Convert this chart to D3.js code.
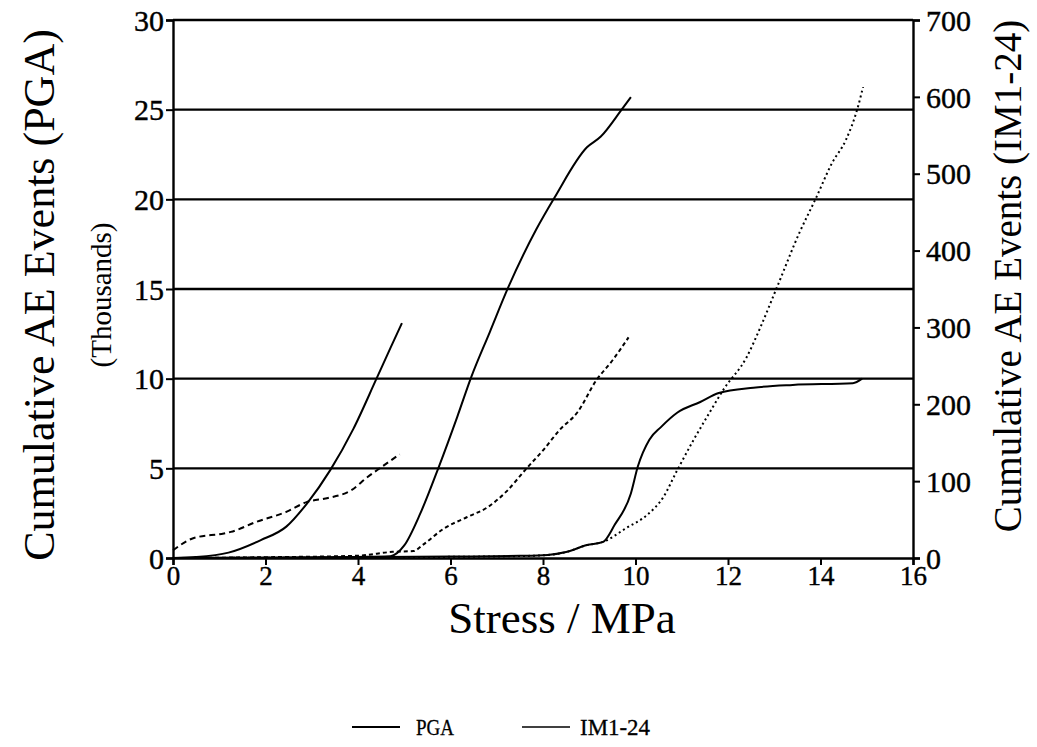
<!DOCTYPE html>
<html>
<head>
<meta charset="utf-8">
<script src="https://cdn.jsdelivr.net/npm/d3@7"></script>
<style>
  body { margin: 0; background: #fff; }
  #chart { width: 1037px; height: 747px; }
  text { font-family: "Liberation Serif", "DejaVu Serif", serif; fill: #000; }
</style>
</head>
<body>
<div id="chart"></div>
<script>
// stress (MPa) and cumulative events
// PGA in thousands (left axis), IM1-24 in events (right axis)
var pga1X = [0, 0.5, 1.2, 1.9, 2.45, 2.9, 3.4, 3.9, 4.4, 4.7, 4.95];
var pga1Y = [0, 0.05, 0.3, 1.0, 1.75, 3.05, 4.9, 7.2, 10.0, 11.7, 13.1];

var im1X = [0, 0.45, 1.1, 1.25, 1.8, 2.45, 2.9, 3.35, 3.85, 4.2, 4.5, 4.9];
var im1Y = [10, 26, 32, 34, 47, 60, 73, 78, 88, 105, 118, 135];

var pga2X = [0, 2, 4, 4.7, 5.0, 5.35, 5.75, 6.15, 6.45, 6.85, 7.25, 7.85, 8.25, 8.95, 9.25, 9.7, 9.9];
var pga2Y = [0, 0.02, 0.06, 0.1, 0.7, 2.5, 5.1, 7.9, 10.1, 12.6, 15.1, 18.3, 20.1, 22.9, 23.5, 25.0, 25.7];

var im2X = [0, 2, 4, 4.75, 5.2, 5.4, 5.85, 6.35, 6.8, 7.2, 7.65, 8.0, 8.35, 8.75, 9.15, 9.5, 9.85];
var im2Y = [0, 1, 3, 8, 9, 17, 38, 53, 66, 86, 117, 140, 166, 190, 231, 257, 287];

var pga3X = [0, 3, 6, 7.5, 8.1, 8.5, 8.95, 9.3, 9.55, 9.9, 10.05, 10.3, 10.55, 10.9, 11.4, 11.8, 12.55, 13.4, 14.7, 14.9];
var pga3Y = [0, 0.03, 0.08, 0.12, 0.17, 0.33, 0.72, 0.9, 1.85, 3.6, 5.1, 6.6, 7.3, 8.1, 8.7, 9.2, 9.5, 9.65, 9.75, 10.0];

var im3X = [0, 3, 6, 7.5, 8.1, 8.5, 8.95, 9.3, 9.8, 10.25, 10.6, 10.9, 11.25, 11.6, 11.9, 12.4, 12.7, 13.05, 13.55, 13.9, 14.25, 14.55, 14.8, 14.92];
var im3Y = [0, 0.5, 1.5, 2.5, 4, 7.7, 16.8, 21, 39, 56, 79, 114, 153, 189, 219, 261, 300, 351, 424, 468, 514, 544, 585, 613];

var xTicks = [0, 2, 4, 6, 8, 10, 12, 14, 16];
var leftTicks = [0, 5, 10, 15, 20, 25, 30];
var rightTicks = [0, 100, 200, 300, 400, 500, 600, 700];
var legendNames = ["PGA", "IM1-24"];

function pairs(xs, ys) {
    return xs.map(function(x, i) { return [x, ys[i]]; });
}

var width = 1037, height = 747;
var margin = {left: 173, right: 124, top: 20, bottom: 189};
var serif = "'Liberation Serif', 'DejaVu Serif', serif";

var svg = d3.select("#chart").append("svg")
    .attr("width", width)
    .attr("height", height);

var x = d3.scaleLinear().domain([0, 16]).range([margin.left, width - margin.right]);
var yL = d3.scaleLinear().domain([0, 30]).range([height - margin.bottom, margin.top]);
var yR = d3.scaleLinear().domain([0, 700]).range([height - margin.bottom, margin.top]);

// horizontal grid
svg.append("g")
    .selectAll("line")
    .data(leftTicks.slice(1))
    .enter()
    .append("line")
        .attr("x1", x(0))
        .attr("x2", x(16))
        .attr("y1", function(d) { return yL(d); })
        .attr("y2", function(d) { return yL(d); })
        .attr("stroke", "#000")
        .attr("stroke-width", 2.4);

// axes
var xAxis = svg.append("g")
    .attr("transform", "translate(0," + yL(0) + ")")
    .call(d3.axisBottom(x).tickValues(xTicks).tickSize(7).tickPadding(1));
var leftAxis = svg.append("g")
    .attr("transform", "translate(" + x(0) + ",0)")
    .call(d3.axisLeft(yL).tickValues(leftTicks).tickSize(7).tickPadding(2));
var rightAxis = svg.append("g")
    .attr("transform", "translate(" + x(16) + ",0)")
    .call(d3.axisRight(yR).tickValues(rightTicks).tickSize(7).tickPadding(6));

[xAxis, leftAxis, rightAxis].forEach(function(a) {
    a.attr("font-family", null).style("font-family", serif);
    a.select(".domain").attr("stroke-width", 2.4);
    a.selectAll(".tick line").attr("stroke-width", 2);
    a.selectAll(".tick text")
        .style("font-family", serif)
        .attr("font-size", 30)
        .attr("fill", "#000")
        .attr("stroke", "#000")
        .attr("stroke-width", 0.4);
});
xAxis.selectAll(".tick text").attr("font-size", 27).attr("dy", "0.72em");
leftAxis.selectAll(".tick text").attr("dy", "0.34em");
rightAxis.selectAll(".tick text").attr("dy", "0.34em");

// curves
var lineL = d3.line()
    .x(function(d) { return x(d[0]); })
    .y(function(d) { return yL(d[1]); })
    .curve(d3.curveMonotoneX);
var lineR = d3.line()
    .x(function(d) { return x(d[0]); })
    .y(function(d) { return yR(d[1]); })
    .curve(d3.curveMonotoneX);

var series = [
    {pts: pairs(pga1X, pga1Y), line: lineL, dash: null},
    {pts: pairs(pga2X, pga2Y), line: lineL, dash: null},
    {pts: pairs(pga3X, pga3Y), line: lineL, dash: null},
    {pts: pairs(im1X, im1Y), line: lineR, dash: "6,4"},
    {pts: pairs(im2X, im2Y), line: lineR, dash: "4,3"},
    {pts: pairs(im3X, im3Y), line: lineR, dash: "2,3"}
];

svg.selectAll("path.curve")
    .data(series)
    .enter()
    .append("path")
        .attr("class", "curve")
        .attr("fill", "none")
        .attr("stroke", "#000")
        .attr("stroke-width", 2)
        .attr("stroke-dasharray", function(d) { return d.dash; })
        .attr("d", function(d) { return d.line(d.pts); });

// titles
svg.append("text")
    .attr("x", 562)
    .attr("y", 633)
    .attr("text-anchor", "middle")
    .attr("font-size", 45)
    .text("Stress / MPa");

svg.append("text")
    .attr("transform", "translate(54,295) rotate(-90)")
    .attr("text-anchor", "middle")
    .attr("font-size", 44)
    .text("Cumulative AE Events (PGA)");

svg.append("text")
    .attr("transform", "translate(111,295) rotate(-90)")
    .attr("text-anchor", "middle")
    .attr("font-size", 29)
    .text("(Thousands)");

svg.append("text")
    .attr("transform", "translate(1021,276) rotate(-90)")
    .attr("text-anchor", "middle")
    .attr("font-size", 39)
    .text("Cumulative AE Events (IM1-24)");

// legend
var legendX = [352, 522];
var legendText = [{dx: 64, len: 38}, {dx: 58, len: 70}];
var leg = svg.selectAll("g.legend")
    .data(legendNames)
    .enter()
    .append("g")
        .attr("class", "legend")
        .attr("transform", function(d, i) { return "translate(" + legendX[i] + ",727)"; });

leg.append("line")
    .attr("x1", 0)
    .attr("x2", 48)
    .attr("stroke", "#000")
    .attr("stroke-width", function(d, i) { return i == 0 ? 1.8 : 1.3; });

leg.append("text")
    .attr("x", function(d, i) { return legendText[i].dx; })
    .attr("y", 8)
    .attr("font-size", 23)
    .attr("stroke", "#000")
    .attr("stroke-width", 0.3)
    .attr("textLength", function(d, i) { return legendText[i].len; })
    .attr("lengthAdjust", "spacingAndGlyphs")
    .text(function(d) { return d; });
</script>
</body>
</html>
